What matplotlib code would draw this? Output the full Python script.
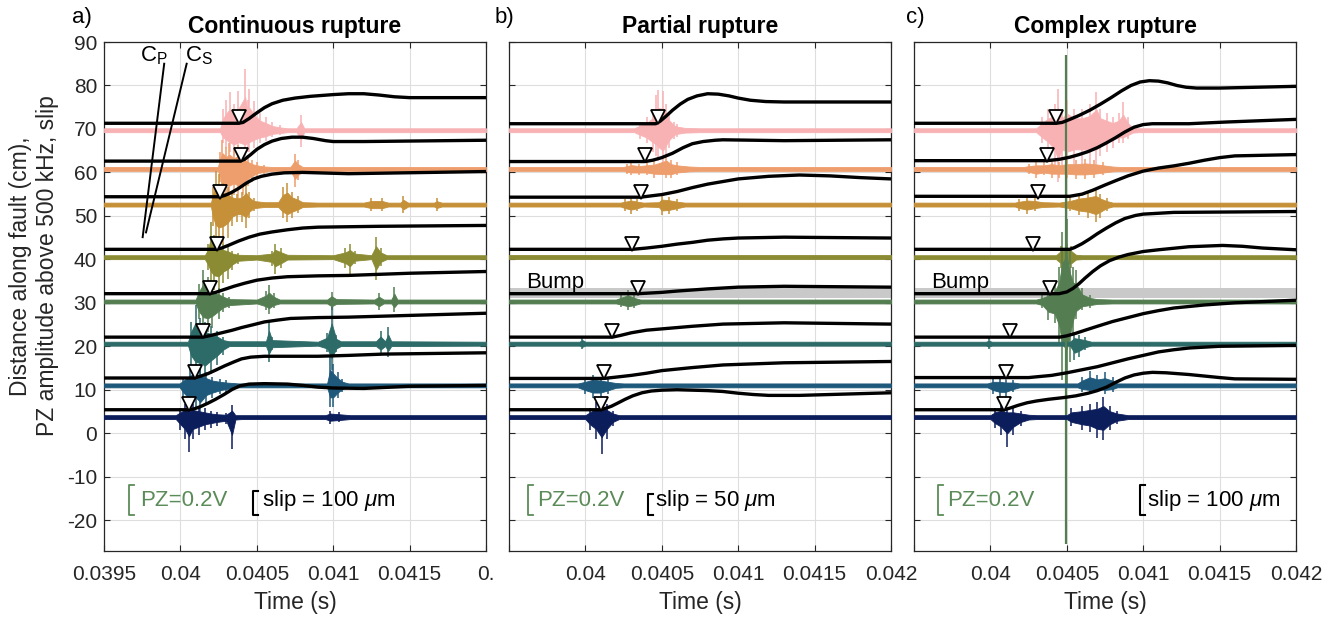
import numpy as np
import matplotlib
matplotlib.use("Agg")
import matplotlib.pyplot as plt

plt.rcParams['font.family'] = ['Liberation Sans', 'DejaVu Sans']
plt.rcParams['mathtext.fontset'] = 'custom'
plt.rcParams['mathtext.rm'] = 'Liberation Sans'
plt.rcParams['mathtext.it'] = 'Liberation Sans:italic'
plt.rcParams['axes.unicode_minus'] = False

# ---------------- data ----------------
panel_titles = ["Continuous rupture", "Partial rupture", "Complex rupture"]
panel_letters = ["a)", "b)", "c)"]
trace_colors = ["#F8B2B4", "#EE9E6C", "#C69039", "#8B8B34",
                "#547E51", "#2C6B68", "#1E587A", "#0C1D5C"]
pz_base = [69.7, 60.8, 52.6, 40.5, 30.3, 20.6, 11.0, 3.7]
tri_v = [72.7, 63.9, 55.6, 43.5, 33.4, 23.4, 14.0, 6.8]
y_ticks = [90, 80, 70, 60, 50, 40, 30, 20, 10, 0, -10, -20]
x_ticks = [0.0395, 0.04, 0.0405, 0.041, 0.0415, 0.042]
x_ticklabels_a = ["0.0395", "0.04", "0.0405", "0.041", "0.0415", "0."]
x_ticklabels_bc = ["", "0.04", "0.0405", "0.041", "0.0415", "0.042"]
slip_scale = ["slip = 100 $\\mu$m", "slip = 50 $\\mu$m", "slip = 100 $\\mu$m"]
pz_scale = "PZ=0.2V"

# pick (triangle) times
tri_a = [0.040383, 0.040394, 0.040259, 0.040237, 0.040194, 0.04015, 0.040096, 0.040056]
tri_b = [0.040473, 0.04039, 0.040362, 0.040307, 0.040346, 0.040176, 0.040122, 0.040102]
tri_c = [0.040427, 0.040368, 0.040314, 0.040277, 0.04039, 0.040128, 0.040102, 0.040091]

# slip curves (time, value)
s_a1 = [(0.0395,71.3),(0.04038,71.3),(0.04041,71.5),(0.04045,72.4),(0.0405,73.7),(0.04055,74.9),(0.0406,75.8),(0.04067,76.6),(0.04075,77.1),(0.04085,77.5),(0.041,77.9),(0.0411,78.1),(0.0412,78.1),(0.0413,77.8),(0.0414,77.4),(0.0415,77.2),(0.042,77.2)]
s_a2 = [(0.0395,62.6),(0.04039,62.6),(0.04042,63.0),(0.04046,64.1),(0.0405,65.3),(0.04055,66.4),(0.0406,67.2),(0.04066,67.8),(0.04073,68.1),(0.0408,68.1),(0.04087,67.8),(0.04095,67.3),(0.041,67.1),(0.0412,67.1),(0.042,67.4)]
s_a3 = [(0.0395,54.4),(0.04026,54.4),(0.04029,54.7),(0.04033,55.3),(0.04038,56.3),(0.04043,57.5),(0.04048,58.5),(0.04053,59.1),(0.0406,59.6),(0.04068,59.9),(0.0408,60.0),(0.0411,59.7),(0.042,60.2)]
s_a4 = [(0.0395,42.3),(0.04023,42.3),(0.04027,42.6),(0.04032,43.3),(0.04038,44.2),(0.04045,45.1),(0.04052,45.8),(0.0406,46.3),(0.0407,46.8),(0.0408,47.2),(0.0409,47.4),(0.0413,47.6),(0.042,47.8)]
s_a5 = [(0.0395,32.1),(0.04019,32.1),(0.04023,32.4),(0.04029,33.1),(0.04035,33.8),(0.04042,34.5),(0.0405,35.2),(0.0406,35.7),(0.0407,36.0),(0.0409,36.2),(0.0411,36.3),(0.0415,36.8),(0.042,37.2)]
s_a6 = [(0.0395,22.1),(0.040147,22.1),(0.0402,22.5),(0.04027,23.1),(0.04034,23.7),(0.0404,24.3),(0.04047,24.9),(0.04055,25.6),(0.04063,26.0),(0.04072,26.4),(0.0409,26.6),(0.0411,26.7),(0.0415,27.1),(0.042,27.6)]
s_a7 = [(0.0395,12.7),(0.040092,12.7),(0.04013,13.1),(0.04018,13.7),(0.04023,14.5),(0.04029,15.5),(0.04035,16.4),(0.0404,17.1),(0.04046,17.5),(0.04055,17.7),(0.0409,17.7),(0.0411,17.9),(0.04133,18.2),(0.042,18.5)]
s_a8 = [(0.0395,5.4),(0.040055,5.4),(0.04009,5.6),(0.04013,6.1),(0.04018,6.9),(0.04023,7.8),(0.04029,9.0),(0.04034,10.1),(0.04039,10.9),(0.04045,11.3),(0.04055,11.4),(0.0407,11.3),(0.0408,11.0),(0.0409,10.6),(0.041,10.4),(0.0412,10.3),(0.0415,10.8),(0.042,11.0)]

s_b1 = [(0.0395,71.2),(0.04046,71.2),(0.04049,71.8),(0.04053,73.0),(0.04057,74.3),(0.04062,75.7),(0.04067,76.8),(0.04073,77.6),(0.0408,78.1),(0.04087,78.0),(0.04094,77.6),(0.041,77.1),(0.04108,76.6),(0.04118,76.3),(0.0413,76.2),(0.042,76.2)]
s_b2 = [(0.0395,62.5),(0.04039,62.5),(0.04044,62.8),(0.0405,63.4),(0.04057,64.4),(0.04064,65.7),(0.0407,66.6),(0.04077,67.1),(0.04085,67.4),(0.0409,67.5),(0.0413,67.3),(0.042,67.5)]
s_b3 = [(0.0395,54.3),(0.040362,54.3),(0.04043,54.6),(0.0405,54.9),(0.0406,55.6),(0.0407,56.5),(0.0408,57.3),(0.0409,57.9),(0.041,58.5),(0.0412,59.1),(0.0414,59.4),(0.0416,59.2),(0.0418,58.8),(0.042,58.5)]
s_b4 = [(0.0395,42.3),(0.040307,42.3),(0.0404,42.6),(0.0405,43.0),(0.0406,43.5),(0.0407,43.9),(0.0408,44.4),(0.0409,44.7),(0.041,44.9),(0.0413,45.1),(0.042,44.9)]
s_b5 = [(0.0395,32.1),(0.040346,32.1),(0.0405,32.4),(0.0406,32.7),(0.0408,33.2),(0.041,33.6),(0.0413,33.8),(0.042,33.6)]
s_b6 = [(0.0395,22.1),(0.040176,22.1),(0.04023,22.5),(0.0403,23.1),(0.0404,23.7),(0.0405,24.0),(0.0407,24.6),(0.0409,25.1),(0.0413,25.4),(0.042,25.1)]
s_b7 = [(0.0395,12.6),(0.040122,12.6),(0.0402,12.9),(0.0403,13.3),(0.0404,13.8),(0.0405,14.4),(0.0407,15.1),(0.0409,15.7),(0.0413,16.2),(0.042,16.5)]
s_b8 = [(0.0395,5.4),(0.040102,5.4),(0.04013,5.7),(0.04017,6.2),(0.04021,6.9),(0.04026,7.8),(0.04031,8.6),(0.04037,9.3),(0.04043,9.7),(0.0405,9.9),(0.0406,10.0),(0.0407,9.9),(0.0408,9.8),(0.0409,9.6),(0.041,9.2),(0.0411,8.9),(0.0412,8.7),(0.0414,8.7),(0.0416,8.9),(0.042,9.3)]

s_c1 = [(0.0395,71.3),(0.04043,71.3),(0.04047,71.5),(0.04052,72.2),(0.04058,73.1),(0.04065,74.3),(0.04072,75.7),(0.04079,77.2),(0.04086,78.8),(0.04092,80.0),(0.04098,80.8),(0.04104,81.1),(0.0411,81.0),(0.04116,80.6),(0.04122,80.0),(0.04128,79.6),(0.04135,79.4),(0.0415,79.4),(0.042,79.8)]
s_c2 = [(0.0395,62.7),(0.04037,62.7),(0.04045,63.0),(0.04052,63.5),(0.04058,64.1),(0.04064,64.8),(0.0407,65.7),(0.04076,66.8),(0.04082,68.0),(0.04088,69.3),(0.04094,70.4),(0.041,71.0),(0.04106,71.2),(0.0413,71.2),(0.04155,71.6),(0.042,72.2)]
s_c3 = [(0.0395,54.5),(0.040519,54.5),(0.0406,55.0),(0.04067,55.9),(0.04075,57.1),(0.04082,58.1),(0.0409,59.2),(0.041,60.3),(0.0411,61.0),(0.0412,61.5),(0.0413,62.1),(0.0414,62.8),(0.0415,63.4),(0.0416,63.8),(0.042,64.1)]
s_c4 = [(0.0395,42.3),(0.040519,42.3),(0.04055,42.7),(0.0406,43.6),(0.04065,44.7),(0.0407,45.9),(0.04076,47.2),(0.04082,48.4),(0.04088,49.4),(0.04095,50.1),(0.041,50.4),(0.0412,50.8),(0.042,51.0)]
s_c5 = [(0.0395,32.1),(0.04045,32.1),(0.0405,32.5),(0.04054,33.3),(0.04058,34.4),(0.04062,35.7),(0.04067,37.2),(0.04072,38.5),(0.04078,39.7),(0.04084,40.5),(0.0409,41.1),(0.041,41.8),(0.0411,42.2),(0.0413,42.9),(0.04152,43.2),(0.04165,43.0),(0.04178,42.6),(0.042,42.2)]
s_c6 = [(0.0395,22.1),(0.040453,22.1),(0.0405,22.4),(0.04056,23.0),(0.04062,23.7),(0.0407,24.6),(0.0408,25.7),(0.0409,26.6),(0.041,27.5),(0.0411,28.2),(0.0412,28.8),(0.0414,29.5),(0.0416,30.0),(0.042,30.6)]
s_c7 = [(0.0395,12.8),(0.04025,12.8),(0.0404,13.3),(0.0405,13.9),(0.0406,14.6),(0.0407,15.3),(0.0408,16.2),(0.0409,17.1),(0.041,17.9),(0.0411,18.7),(0.0412,19.2),(0.0413,19.6),(0.0415,20.0),(0.042,20.2)]
s_c8 = [(0.0395,5.4),(0.040091,5.4),(0.04013,5.8),(0.04018,6.4),(0.04024,7.0),(0.0403,7.4),(0.04038,7.8),(0.04048,8.2),(0.04056,8.6),(0.04064,9.2),(0.0407,9.8),(0.04076,10.6),(0.04082,11.7),(0.04088,12.7),(0.04094,13.4),(0.041,13.8),(0.04106,14.0),(0.04115,13.9),(0.0413,13.5),(0.0415,12.8),(0.0416,12.5),(0.042,12.4)]

# PZ trace envelopes (time, amplitude above baseline, amplitude below baseline)
e_a1 = [(0.0395,.45,.45),(0.04026,.5,.5),(0.04028,5,3),(0.0403,7,4),(0.040322,8.8,5),(0.04035,6,6),(0.04038,9,5),(0.040424,14,6),(0.04044,7,5),(0.04045,9.5,5),(0.04048,6.8,4),(0.04052,4,3),(0.04056,3,2.5),(0.0406,1.8,1.5),(0.04065,1.2,1.2),(0.0407,0.8,0.8),(0.04076,0.7,0.7),(0.04079,3.4,3.9),(0.04081,0.8,0.8),(0.0409,0.5,0.5),(0.042,.45,.45)]
e_a2 = [(0.0395,.45,.45),(0.040245,.5,.5),(0.04026,4,3),(0.040275,6.6,8.8),(0.0403,5,6),(0.04032,6,7),(0.04035,4.5,6),(0.04038,5.5,7),(0.04041,4,6),(0.04044,3,4),(0.04047,2,3),(0.0405,1.5,1.8),(0.04055,1.0,1.2),(0.0406,0.8,0.8),(0.04072,0.8,0.8),(0.04075,3.5,4.2),(0.04077,2,2.5),(0.0408,0.8,0.8),(0.0409,0.5,0.5),(0.042,.45,.45)]
e_a3 = [(0.0395,.45,.45),(0.0402,.5,.5),(0.040212,4,5),(0.04023,7.8,8.3),(0.04025,7,9.6),(0.04028,5,9),(0.04031,4,7.6),(0.04034,3,5),(0.04037,2.5,4),(0.0404,3,4),(0.04043,4.9,5.3),(0.04045,3,3),(0.04048,1.5,1.5),(0.04055,1,1),(0.04064,1.0,1.0),(0.04067,4,3),(0.0407,5,4),(0.04073,3,3),(0.04077,2,2),(0.0408,1,1),(0.0409,0.7,0.7),(0.0412,0.7,0.7),(0.04125,1.5,1.5),(0.04132,1.5,1.5),(0.04136,0.7,0.7),(0.04144,0.7,0.7),(0.04146,2,2),(0.04149,0.7,0.7),(0.04166,0.7,0.7),(0.04168,1.4,1.4),(0.04171,0.7,0.7),(0.042,.45,.45)]
e_a4 = [(0.0395,.45,.45),(0.04016,.5,.5),(0.04018,3,3),(0.0402,8.1,6),(0.04022,5,7.6),(0.04025,4,8),(0.04028,3,6),(0.04031,2.5,5),(0.04034,1.5,3),(0.04038,1,1.5),(0.0405,0.8,1),(0.0406,1.5,2),(0.04062,3.1,3.8),(0.04066,2,2.5),(0.0407,1,1),(0.041,0.8,0.8),(0.04108,2,2.5),(0.04111,3.0,3.8),(0.04114,1.5,1.5),(0.04125,0.8,0.8),(0.04128,4.6,5.3),(0.04131,2,2),(0.04135,0.8,0.8),(0.042,.45,.45)]
e_a5 = [(0.0395,.45,.45),(0.0401,.5,.5),(0.04012,4,4),(0.04015,7.2,6.6),(0.04018,5.6,7),(0.04021,4,6),(0.04025,3,4),(0.04028,2,2.5),(0.04032,1,1.5),(0.0405,0.8,0.8),(0.04056,2.5,2),(0.04058,3.7,2.8),(0.04061,2,1.5),(0.04065,0.8,0.8),(0.04096,0.8,0.8),(0.04099,2.2,2.0),(0.04102,1,1),(0.04127,0.8,0.8),(0.0413,2,2),(0.04133,0.8,0.8),(0.04138,0.8,0.8),(0.0414,3.3,2.4),(0.04142,0.8,0.8),(0.042,.45,.45)]
e_a6 = [(0.0395,.45,.45),(0.04005,.5,.5),(0.04007,5,5),(0.0401,8.8,7.7),(0.04013,6,8),(0.04016,5,9.2),(0.0402,4,7),(0.04024,3,5),(0.04028,1.5,2.5),(0.04032,1,1),(0.04056,1,1),(0.04058,5.4,4.2),(0.0406,1.5,1.5),(0.0409,0.8,0.8),(0.04096,2.5,2),(0.04099,8.5,6),(0.04102,2,2),(0.04105,1,1),(0.04128,1,1),(0.04131,3,2.5),(0.04134,1,1),(0.04136,3.8,3),(0.04138,1,1),(0.042,.45,.45)]
e_a7 = [(0.0395,.45,.45),(0.039995,.5,.5),(0.04002,2,3),(0.04006,4,5.7),(0.0401,5,5),(0.04013,4,7),(0.04017,3,4),(0.04021,2,3),(0.04026,1.5,2),(0.0403,1.2,1.5),(0.04038,0.8,0.8),(0.04096,0.8,0.8),(0.04098,6.5,5),(0.041,5,5),(0.04103,3,3),(0.04106,1.5,1.5),(0.0411,0.8,0.8),(0.042,.45,.45)]
e_a8 = [(0.0395,.45,.45),(0.03997,.5,.5),(0.04,2,3),(0.04003,3,5),(0.040056,2.5,8),(0.04008,3,5),(0.04012,2.5,4),(0.04016,2,3),(0.0402,1.5,2.5),(0.04024,1.2,2),(0.0403,1,1.5),(0.040338,2.7,7.4),(0.04036,0.8,1),(0.0404,0.6,0.6),(0.04095,0.6,0.6),(0.04098,1.5,1.5),(0.04104,1.2,1.2),(0.04111,0.6,0.6),(0.042,.45,.45)]

e_b1 = [(0.0395,.45,.45),(0.04032,.5,.5),(0.04036,2,2),(0.0404,3,3),(0.04044,5,5),(0.040464,8,6),(0.040477,9.3,7),(0.040508,9,8.5),(0.04053,6,6),(0.04055,4,4),(0.04058,2,2),(0.0406,1.5,1.5),(0.04065,1,1),(0.04075,0.6,0.6),(0.042,.45,.45)]
e_b2 = [(0.0395,.45,.45),(0.04025,.5,.5),(0.04027,1.2,1.2),(0.0403,1.6,1.5),(0.04035,1.2,1.5),(0.0404,1.5,1.5),(0.04045,1.8,2.0),(0.04053,3.5,2.2),(0.04056,2,2.2),(0.0406,1.5,1.5),(0.04068,1.0,1.0),(0.04075,0.6,0.6),(0.042,.45,.45)]
e_b3 = [(0.0395,.45,.45),(0.04023,.5,.5),(0.04026,1.2,1.5),(0.0403,1.7,2.1),(0.04034,1.2,1.5),(0.04038,0.8,0.8),(0.04048,1,1),(0.0405,2.1,2.5),(0.04055,1.8,2.2),(0.0406,1.2,1.5),(0.04065,0.8,0.8),(0.04075,0.6,0.6),(0.042,.45,.45)]
e_b4 = [(0.0395,.5,.5),(0.042,.5,.5)]
e_b5 = [(0.0395,.45,.45),(0.0402,.5,.5),(0.04023,1.5,1.2),(0.04028,2.6,2.0),(0.04032,1.5,1.5),(0.04036,0.6,0.6),(0.042,.45,.45)]
e_b6 = [(0.0395,.45,.45),(0.03996,.5,.5),(0.03998,1.5,1.3),(0.04,.5,.5),(0.042,.45,.45)]
e_b7 = [(0.0395,.45,.45),(0.03995,.5,.5),(0.04,1.5,2),(0.04005,2.4,3.0),(0.0401,2,3),(0.04015,1.5,2),(0.0402,1,1),(0.04025,0.6,0.6),(0.042,.45,.45)]
e_b8 = [(0.0395,.45,.45),(0.04,.5,.5),(0.04003,2,3),(0.04007,3.5,5),(0.040106,4,8.4),(0.04014,3,5),(0.04018,1.5,2),(0.04022,0.8,0.8),(0.042,.45,.45)]

e_c1 = [(0.0395,.45,.45),(0.0403,.5,.5),(0.04034,3,3),(0.04038,5,5),(0.04042,6,8),(0.040442,9.5,12),(0.04047,5,8),(0.0405,7,9),(0.04055,5,8),(0.0406,5,8),(0.04065,6,8),(0.040694,8.7,8),(0.04072,5,6),(0.04076,4,5),(0.0408,3,4),(0.04084,4,3),(0.040869,6.5,3),(0.0409,3,2),(0.04093,1,1),(0.04097,0.6,0.6),(0.042,.45,.45)]
e_c2 = [(0.0395,.45,.45),(0.04022,.5,.5),(0.04025,1.2,1.2),(0.0403,1.5,2),(0.04035,1.5,1.5),(0.0404,2,2),(0.04045,1.5,2),(0.0405,2,2),(0.04056,2,2.3),(0.04062,2.3,2.3),(0.04068,2,2),(0.04074,1.5,1.5),(0.0408,1,1),(0.04085,0.6,0.6),(0.042,.45,.45)]
e_c3 = [(0.0395,.45,.45),(0.04016,.5,.5),(0.04019,1.2,1.5),(0.04024,1.7,2.1),(0.04029,1.5,1.5),(0.04034,1,1),(0.04045,0.8,0.8),(0.04052,1.5,1.5),(0.04058,2.5,2.5),(0.04064,3,3),(0.04069,3.6,4.0),(0.04072,2.5,3),(0.04076,1.5,1.5),(0.0408,0.8,0.8),(0.042,.45,.45)]
e_c4 = [(0.0395,.5,.5),(0.04043,.5,.5),(0.04046,2.5,2.5),(0.0405,3.1,3.0),(0.04053,2.5,2.5),(0.04056,1,1),(0.0406,0.5,0.5),(0.042,.5,.5)]
e_c5 = [(0.0395,.45,.45),(0.0403,.5,.5),(0.04034,1.5,1.5),(0.04038,2.5,4.3),(0.04042,4,5),(0.04045,8,10),(0.04047,16,18),(0.0405,19,20),(0.04052,12,14),(0.04054,8,8),(0.04056,7.3,4),(0.0406,3,2),(0.04065,1.5,1.5),(0.0407,1,1),(0.0408,0.6,0.6),(0.042,.45,.45)]
e_c6 = [(0.0395,.45,.45),(0.03997,.5,.5),(0.03999,1.2,1.2),(0.04001,.5,.5),(0.04052,.5,.5),(0.04055,2.3,3.8),(0.04058,2,3),(0.04062,1.5,1.5),(0.04066,0.6,0.6),(0.042,.45,.45)]
e_c7 = [(0.0395,.45,.45),(0.03998,.5,.5),(0.04002,1.5,2),(0.04006,1.5,2.7),(0.0401,1.2,2.7),(0.04015,1.2,1.5),(0.04019,.5,.5),(0.04057,.5,.5),(0.0406,2,1.5),(0.04065,3.4,1.9),(0.0407,2.5,1.5),(0.04075,3,1.9),(0.0408,2,1.5),(0.04083,.5,.5),(0.042,.45,.45)]
e_c8 = [(0.0395,.45,.45),(0.04,.5,.5),(0.04003,2,2.5),(0.04007,2.7,4),(0.04011,2,6.8),(0.04015,2,4),(0.0402,1.5,2),(0.04025,1,1),(0.0403,.6,.6),(0.0405,.6,.6),(0.04053,2,2),(0.0406,2.5,3),(0.04065,3,3.5),(0.0407,3.5,4.9),(0.04074,4.6,5.3),(0.04078,2.5,3),(0.04083,1.5,1.5),(0.0409,.6,.6),(0.042,.45,.45)]

# large single spike of the green trace in panel c (time, top, bottom)
spike_c5 = (0.040496, 86.9, -25.4)
bump_band = (31.0, 33.4)

slips = [[s_a1, s_a2, s_a3, s_a4, s_a5, s_a6, s_a7, s_a8],
         [s_b1, s_b2, s_b3, s_b4, s_b5, s_b6, s_b7, s_b8],
         [s_c1, s_c2, s_c3, s_c4, s_c5, s_c6, s_c7, s_c8]]
envs = [[e_a1, e_a2, e_a3, e_a4, e_a5, e_a6, e_a7, e_a8],
        [e_b1, e_b2, e_b3, e_b4, e_b5, e_b6, e_b7, e_b8],
        [e_c1, e_c2, e_c3, e_c4, e_c5, e_c6, e_c7, e_c8]]
tris = [tri_a, tri_b, tri_c]

# ---------------- figure ----------------
W, H = 1341, 619
fig = plt.figure(figsize=(W / 100, H / 100), dpi=100)
lefts = [104, 509, 914]
pw = 382
ax_bottom, ax_top = 551, 42
axes = []
for i, lx in enumerate(lefts):
    ax = fig.add_axes([lx / W, 1 - ax_bottom / H, pw / W, (ax_bottom - ax_top) / H])
    axes.append(ax)

txt_col = "#262626"
pz_col = "#5B8B58"

for p, ax in enumerate(axes):
    ax.set_xlim(0.0395, 0.042)
    ax.set_ylim(-27.1, 90)
    ax.set_xticks(x_ticks)
    ax.set_yticks(y_ticks)
    ax.set_xticklabels(x_ticklabels_a if p == 0 else x_ticklabels_bc)
    ax.set_yticklabels([str(v) for v in y_ticks])
    ax.grid(True, color="#DEDEDE", lw=0.8, zorder=0)
    ax.set_axisbelow(True)
    ax.tick_params(direction="in", top=True, right=True, length=4, width=0.8,
                   colors=txt_col, labelsize=15)
    ax.tick_params(axis="x", pad=10)
    ax.tick_params(axis="y", pad=5, labelleft=(p == 0))
    for sp in ax.spines.values():
        sp.set_color(txt_col)
        sp.set_linewidth(0.9)

    if p > 0:
        ax.axhspan(bump_band[0], bump_band[1], color="#C9C9C9", zorder=1, lw=0)
        ax.text(0.03961, 33.4, "Bump", fontsize=16, color="k", va="baseline",
                ha="left", zorder=40)

    # PZ traces: dense core plus spikes at the read peak amplitudes
    for k in range(8):
        arr = np.array(envs[p][k], dtype=float)
        t, up, dn = arr[:, 0], arr[:, 1], arr[:, 2]
        b = pz_base[k]
        cu = np.maximum(0.55 * up, np.minimum(up, 0.45))
        cd = np.maximum(0.55 * dn, np.minimum(dn, 0.45))
        ax.fill_between(t, b - cd, b + cu, color=trace_colors[k],
                        lw=0.6, edgecolor=trace_colors[k], zorder=3 + k)
        big = (up > 1.0) | (dn > 1.0)
        ax.vlines(t[big], b - dn[big], b + up[big], color=trace_colors[k],
                  lw=1.1, zorder=3 + k)
    if p == 2:
        ax.vlines(spike_c5[0], spike_c5[2], spike_c5[1], color=trace_colors[4],
                  lw=1.6, zorder=8)

    # slip traces
    for k in range(8):
        arr = np.array(slips[p][k], dtype=float)
        ax.plot(arr[:, 0], arr[:, 1], color="k", lw=2.4, zorder=20,
                solid_joinstyle="round", solid_capstyle="butt")
    ax.plot(tris[p], tri_v, "v", ms=10, mfc="white", mec="k", mew=1.3,
            zorder=30, ls="none")

    # titles / labels
    cx = (lefts[p] + pw / 2) / W
    fig.text(cx, 1 - 27 / H, panel_titles[p], ha="center", va="center",
             fontsize=16.5, fontweight="bold", color="k")
    fig.text(cx, 1 - 602 / H, "Time (s)", ha="center", va="center",
             fontsize=16.5, color=txt_col)

fig.text(72 / W, 1 - 17 / H, "a)", fontsize=16, ha="left", va="center")
fig.text(495 / W, 1 - 17 / H, "b)", fontsize=16, ha="left", va="center")
fig.text(906 / W, 1 - 17 / H, "c)", fontsize=16, ha="left", va="center")

fig.text(34 / W, 1 - 266 / H,
         "Distance along fault (cm),\nPZ amplitude above 500 kHz, slip",
         rotation=90, ha="center", va="center", multialignment="center",
         fontsize=16.5, color=txt_col, linespacing=1.2)

# C_P / C_S annotation in panel a
axa = axes[0]
axa.plot([0.039753, 0.039894], [45.1, 85.0], color="k", lw=1.4, zorder=25)
axa.plot([0.039775, 0.040041], [46.2, 85.0], color="k", lw=1.4, zorder=25)
axa.text(0.039736, 85.6, "C$_\\mathrm{P}$", fontsize=16, ha="left", va="baseline", zorder=25)
axa.text(0.040030, 85.6, "C$_\\mathrm{S}$", fontsize=16, ha="left", va="baseline", zorder=25)

# scale bars
bw = 0.000033
pz_bar_x = [0.039664, 0.039624, 0.039657]
pz_txt_x = [0.039736, 0.039687, 0.039718]
slip_bar_x = [0.040475, 0.040410, 0.040980]
slip_txt_x = [0.040534, 0.040455, 0.041025]
slip_bar_top = [-13.2, -13.9, -12.0]
for p, ax in enumerate(axes):
    x0 = pz_bar_x[p]
    ax.plot([x0 + bw, x0, x0, x0 + bw], [-11.9, -11.9, -18.9, -18.9],
            color=pz_col, lw=1.3, zorder=25)
    ax.text(pz_txt_x[p], -15.4, pz_scale, color=pz_col, fontsize=16,
            ha="left", va="center", zorder=25)
    x1 = slip_bar_x[p]
    ax.plot([x1 + bw, x1, x1, x1 + bw], [slip_bar_top[p], slip_bar_top[p], -18.9, -18.9],
            color="k", lw=1.5, zorder=25)
    ax.text(slip_txt_x[p], -15.4, slip_scale[p], color="k", fontsize=16,
            ha="left", va="center", zorder=25)

fig.savefig("out.png", dpi=100)
